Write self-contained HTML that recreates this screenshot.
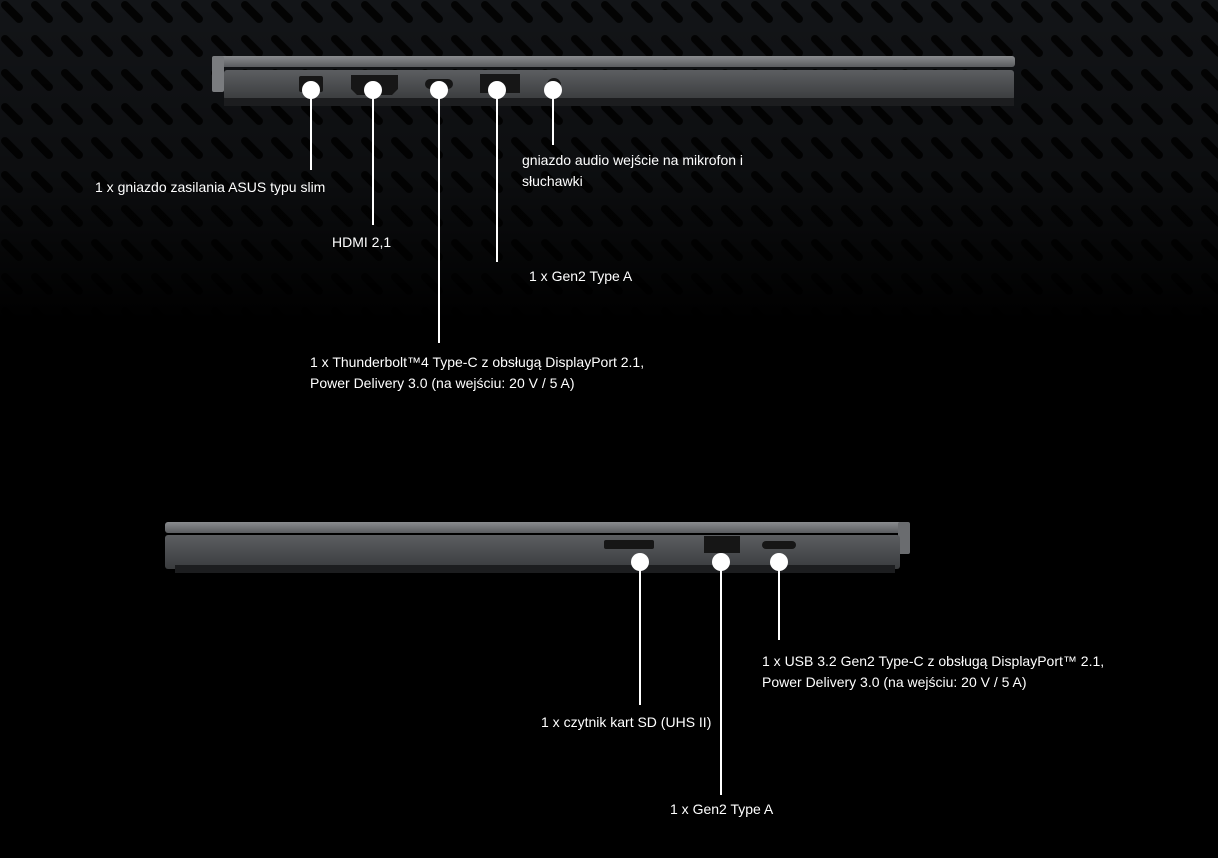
<!DOCTYPE html>
<html><head><meta charset="utf-8"><style>
body{margin:0;width:1218px;height:858px;background:#000;position:relative;overflow:hidden;font-family:"Liberation Sans",sans-serif;color:#fff;font-size:14px}
.t{position:absolute;line-height:21px;white-space:nowrap}
.l{position:absolute;width:2px;background:#fff}
.d{position:absolute;width:18px;height:18px;border-radius:50%;background:#fff}
</style></head><body>
<svg width="1218" height="858" style="position:absolute;left:0;top:0">
<defs>
<pattern id="p" width="30" height="34" patternUnits="userSpaceOnUse">
<rect width="30" height="34" fill="#131518"/>
<line x1="5" y1="5" x2="19" y2="19" stroke="#030303" stroke-width="8" stroke-linecap="round"/>
</pattern>
<linearGradient id="g" x1="0" y1="0" x2="0" y2="1">
<stop offset="0" stop-color="#000" stop-opacity="0"/>
<stop offset="0.55" stop-color="#000" stop-opacity="0.35"/>
<stop offset="1" stop-color="#000" stop-opacity="1"/>
</linearGradient>
<linearGradient id="lid" x1="0" y1="0" x2="0" y2="1"><stop offset="0" stop-color="#8a8c8f"/><stop offset="1" stop-color="#5a5c5f"/></linearGradient>
<linearGradient id="bod" x1="0" y1="0" x2="0" y2="1"><stop offset="0" stop-color="#5c5e61"/><stop offset="1" stop-color="#3a3c3e"/></linearGradient>
</defs>
<rect width="1218" height="320" fill="url(#p)"/>
<rect width="1218" height="320" fill="url(#g)"/>
<rect x="212" y="56" width="803" height="11" rx="3" fill="url(#lid)"/>
<rect x="212" y="56" width="12" height="36" rx="2" fill="#7a7c7f"/>
<rect x="224" y="70" width="790" height="30" rx="3" fill="url(#bod)"/>
<rect x="224" y="98" width="790" height="8" fill="#1c1d1f"/>
<rect x="299" y="76" width="24" height="16" rx="2" fill="#161616"/>
<path d="M351 75h47v14l-6 6h-35l-6-6z" fill="#161616"/>
<rect x="425" y="79" width="28" height="10" rx="5" fill="#161616"/>
<rect x="480" y="74" width="40" height="19" fill="#161616"/>
<circle cx="554" cy="85" r="7" fill="#161616"/>
<rect x="165" y="522" width="745" height="11" rx="3" fill="url(#lid)"/>
<rect x="898" y="522" width="12" height="32" rx="2" fill="#6a6c6f"/>
<rect x="165" y="535" width="735" height="34" rx="3" fill="url(#bod)"/>
<rect x="175" y="565" width="720" height="8" fill="#1c1d1f"/>
<rect x="604" y="540" width="50" height="9" rx="2" fill="#161616"/>
<rect x="704" y="536" width="36" height="17" fill="#161616"/>
<rect x="762" y="541" width="34" height="8" rx="4" fill="#161616"/>
</svg>
<div class="l" style="left:310px;top:90px;height:80px"></div>
<div class="l" style="left:372px;top:90px;height:135px"></div>
<div class="l" style="left:438px;top:90px;height:253px"></div>
<div class="l" style="left:496px;top:90px;height:172px"></div>
<div class="l" style="left:552px;top:90px;height:55px"></div>
<div class="d" style="left:302px;top:81px"></div>
<div class="d" style="left:364px;top:81px"></div>
<div class="d" style="left:430px;top:81px"></div>
<div class="d" style="left:488px;top:81px"></div>
<div class="d" style="left:544px;top:81px"></div>
<div class="t" style="left:95px;top:177px">1 x gniazdo zasilania ASUS typu slim</div>
<div class="t" style="left:332px;top:232px">HDMI 2,1</div>
<div class="t" style="left:529px;top:266px">1 x Gen2 Type A</div>
<div class="t" style="left:522px;top:150px">gniazdo audio wejście na mikrofon i<br>słuchawki</div>
<div class="t" style="left:310px;top:352px">1 x Thunderbolt™4 Type-C z obsługą DisplayPort 2.1,<br>Power Delivery 3.0 (na wejściu: 20 V / 5 A)</div>
<div class="l" style="left:639px;top:562px;height:143px"></div>
<div class="l" style="left:720px;top:562px;height:233px"></div>
<div class="l" style="left:778px;top:562px;height:78px"></div>
<div class="d" style="left:631px;top:553px"></div>
<div class="d" style="left:712px;top:553px"></div>
<div class="d" style="left:770px;top:553px"></div>
<div class="t" style="left:541px;top:712px">1 x czytnik kart SD (UHS II)</div>
<div class="t" style="left:670px;top:799px">1 x Gen2 Type A</div>
<div class="t" style="left:762px;top:651px">1 x USB 3.2 Gen2 Type-C z obsługą DisplayPort™ 2.1,<br>Power Delivery 3.0 (na wejściu: 20 V / 5 A)</div>
</body></html>
